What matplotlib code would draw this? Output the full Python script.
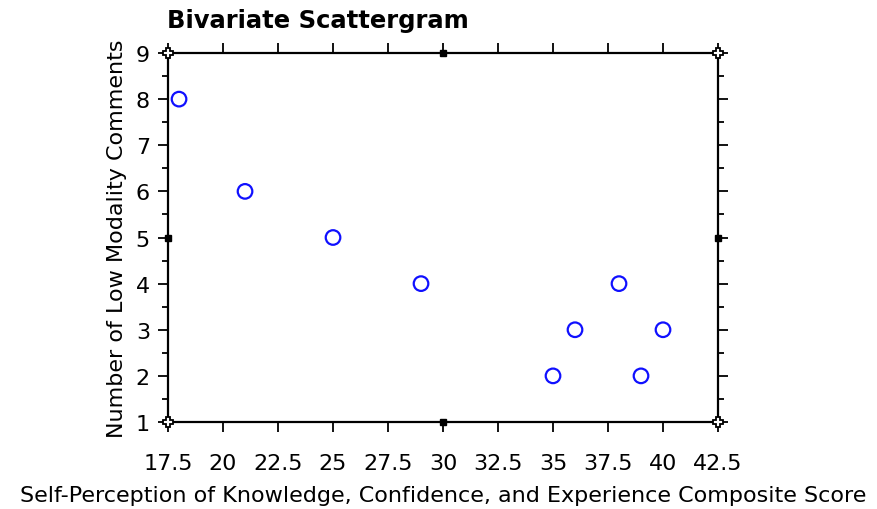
import matplotlib.pyplot as plt
from matplotlib.ticker import MultipleLocator

# data
composite_score = [18, 21, 25, 29, 35, 36, 38, 39, 40]
low_modality = [8, 6, 5, 4, 2, 3, 4, 2, 3]

x_ticks = [17.5, 20, 22.5, 25, 27.5, 30, 32.5, 35, 37.5, 40, 42.5]
x_tick_labels = ["17.5", "20", "22.5", "25", "27.5", "30", "32.5", "35", "37.5", "40", "42.5"]
y_ticks = [1, 2, 3, 4, 5, 6, 7, 8, 9]

fig = plt.figure(figsize=(8.77, 5.10), dpi=100)
ax = fig.add_axes([0.1916, 0.1706, 0.6271, 0.7235])

ax.scatter(composite_score, low_modality, s=110, facecolors="none",
           edgecolors="#1010ff", linewidths=1.6, zorder=3, clip_on=False)

ax.set_xlim(17.5, 42.5)
ax.set_ylim(1, 9)
ax.set_xticks(x_ticks)
ax.set_xticklabels(x_tick_labels)
ax.set_yticks(y_ticks)
ax.yaxis.set_minor_locator(MultipleLocator(0.5))

ax.tick_params(axis="both", which="major", direction="out", length=7, width=1.3,
               labelsize=16, top=True, right=True, pad=4)
ax.tick_params(axis="y", which="minor", direction="out", length=4, width=1.3,
               right=True)
ax.tick_params(axis="x", which="both", labeltop=False)
ax.tick_params(axis="y", which="both", labelright=False)
ax.tick_params(axis="x", which="major", pad=15)
ax.tick_params(axis="y", which="major", pad=6)

for side in ax.spines.values():
    side.set_linewidth(1.6)

# small corner/midpoint handles like the original
for px, py in [(0, 0), (0, 1), (1, 0), (1, 1)]:
    ax.plot(px, py, marker="P", color="black", markersize=7, markerfacecolor="white",
            markeredgewidth=1.3, transform=ax.transAxes, clip_on=False, zorder=4)
for px, py in [(0.5, 0), (0.5, 1), (0, 0.5), (1, 0.5)]:
    ax.plot(px, py, marker="s", color="black", markersize=5,
            transform=ax.transAxes, clip_on=False, zorder=4)

ax.set_xlabel("Self-Perception of Knowledge, Confidence, and Experience Composite Score",
              fontsize=16, labelpad=9)
ax.set_ylabel("Number of Low Modality Comments", fontsize=16, labelpad=6)
fig.text(0.19, 0.958, "Bivariate Scattergram", fontsize=17.5, fontweight="bold",
         ha="left", va="center")

fig.savefig("out.png", dpi=100)
